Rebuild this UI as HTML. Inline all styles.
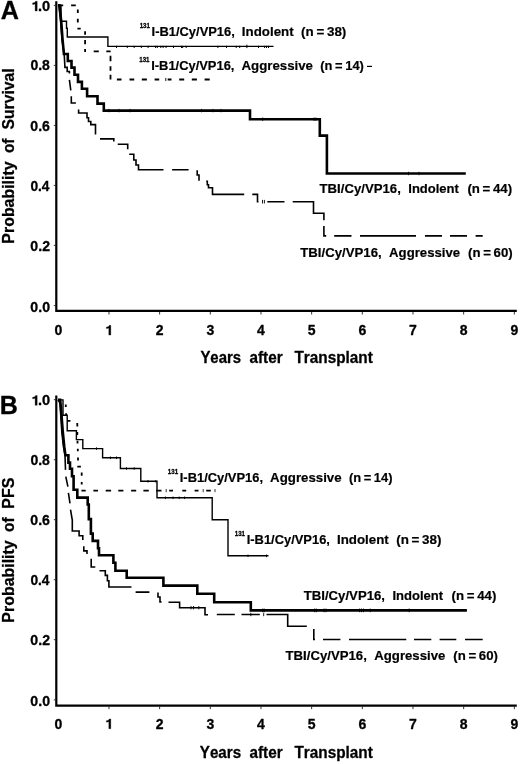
<!DOCTYPE html>
<html><head><meta charset="utf-8"><style>
html,body{margin:0;padding:0;background:#fff;}
svg{display:block;filter:blur(0.35px);}
text{font-family:"Liberation Sans", sans-serif;font-weight:bold;fill:#000;stroke:#000;stroke-width:0.3px;stroke-linejoin:round;font-kerning:none;font-variant-ligatures:none;}
path{fill:none;stroke:#000;stroke-linecap:butt;stroke-linejoin:miter;}
</style></head><body>
<svg width="520" height="764" viewBox="0 0 520 764">
<text x="0.72" y="19.4" font-size="26.5" textLength="18.19" lengthAdjust="spacingAndGlyphs" >A</text>
<path d="M56.3,1.2 V310.90 H516.8" stroke-width="2.2" stroke-linejoin="round"/>
<path d="M108.97,311.90 v2.6 M159.64,311.90 v2.6 M210.31,311.90 v2.6 M260.98,311.90 v2.6 M311.65,311.90 v2.6 M362.32,311.90 v2.6 M412.99,311.90 v2.6 M463.66,311.90 v2.6 M514.33,311.90 v2.6" stroke-width="0.8" stroke="#888"/>
<path d="M53.8,5.4 H55.2 M53.8,65.4 H55.2 M53.8,125.4 H55.2 M53.8,185.4 H55.2 M53.8,245.4 H55.2 M53.8,305.6 H55.2" stroke-width="0.8" stroke="#aaa"/>
<path d="M35.12,11.00 37.20,11.00 37.20,1.25 35.56,1.25 35.32,1.83 34.88,2.32 34.18,2.68 33.36,2.87 32.60,2.93 32.60,4.44 33.51,4.38 34.33,4.20 35.12,3.83Z" style="fill:#000;stroke:#000;stroke-width:0.3px;stroke-linejoin:round"/>
<text x="38.06" y="11.0" font-size="14" textLength="12.19" lengthAdjust="spacingAndGlyphs" >.0</text>
<text x="30.40" y="70.4" font-size="14" textLength="19.49" lengthAdjust="spacingAndGlyphs" >0.8</text>
<text x="30.39" y="130.8" font-size="14" textLength="19.57" lengthAdjust="spacingAndGlyphs" >0.6</text>
<text x="30.41" y="190.7" font-size="14" textLength="19.12" lengthAdjust="spacingAndGlyphs" >0.4</text>
<text x="30.39" y="250.7" font-size="14" textLength="19.62" lengthAdjust="spacingAndGlyphs" >0.2</text>
<text x="30.39" y="311.5" font-size="14" textLength="19.64" lengthAdjust="spacingAndGlyphs" >0.0</text>
<text x="58.3" y="335.1" font-size="14" text-anchor="middle" >0</text>
<path d="M108.81,335.10 110.80,335.10 110.80,325.35 109.23,325.35 109.01,325.93 108.58,326.42 107.91,326.78 107.13,326.97 106.40,327.03 106.40,328.54 107.27,328.48 108.05,328.30 108.81,327.93Z" style="fill:#000;stroke:#000;stroke-width:0.3px;stroke-linejoin:round"/>
<text x="159.64" y="335.1" font-size="14" text-anchor="middle" >2</text>
<text x="210.31" y="335.1" font-size="14" text-anchor="middle" >3</text>
<text x="260.98" y="335.1" font-size="14" text-anchor="middle" >4</text>
<text x="311.65" y="335.1" font-size="14" text-anchor="middle" >5</text>
<text x="362.32" y="335.1" font-size="14" text-anchor="middle" >6</text>
<text x="412.99" y="335.1" font-size="14" text-anchor="middle" >7</text>
<text x="463.66" y="335.1" font-size="14" text-anchor="middle" >8</text>
<text x="514.33" y="335.1" font-size="14" text-anchor="middle" >9</text>
<text x="200.39" y="363.4" font-size="16.8" textLength="40.67" lengthAdjust="spacingAndGlyphs" >Years</text>
<text x="249.50" y="363.4" font-size="16.8" textLength="33.08" lengthAdjust="spacingAndGlyphs" >after</text>
<text x="294.48" y="363.4" font-size="16.8" textLength="78.36" lengthAdjust="spacingAndGlyphs" >Transplant</text>
<text x="-0.33" y="413.6" font-size="26.5" textLength="18.12" lengthAdjust="spacingAndGlyphs" >B</text>
<path d="M56.3,395.5 V705.60 H516.8" stroke-width="2.2" stroke-linejoin="round"/>
<path d="M108.97,706.60 v2.6 M159.64,706.60 v2.6 M210.31,706.60 v2.6 M260.98,706.60 v2.6 M311.65,706.60 v2.6 M362.32,706.60 v2.6 M412.99,706.60 v2.6 M463.66,706.60 v2.6 M514.33,706.60 v2.6" stroke-width="0.8" stroke="#888"/>
<path d="M53.8,399.7 H55.2 M53.8,459.7 H55.2 M53.8,519.7 H55.2 M53.8,579.7 H55.2 M53.8,639.7 H55.2 M53.8,699.9 H55.2" stroke-width="0.8" stroke="#aaa"/>
<path d="M35.12,405.30 37.20,405.30 37.20,395.55 35.56,395.55 35.32,396.13 34.88,396.62 34.18,396.98 33.36,397.17 32.60,397.23 32.60,398.74 33.51,398.68 34.33,398.50 35.12,398.13Z" style="fill:#000;stroke:#000;stroke-width:0.3px;stroke-linejoin:round"/>
<text x="38.06" y="405.3" font-size="14" textLength="12.19" lengthAdjust="spacingAndGlyphs" >.0</text>
<text x="30.40" y="464.7" font-size="14" textLength="19.49" lengthAdjust="spacingAndGlyphs" >0.8</text>
<text x="30.39" y="525.1" font-size="14" textLength="19.57" lengthAdjust="spacingAndGlyphs" >0.6</text>
<text x="30.41" y="585.0" font-size="14" textLength="19.12" lengthAdjust="spacingAndGlyphs" >0.4</text>
<text x="30.39" y="645.0" font-size="14" textLength="19.62" lengthAdjust="spacingAndGlyphs" >0.2</text>
<text x="30.39" y="705.8" font-size="14" textLength="19.64" lengthAdjust="spacingAndGlyphs" >0.0</text>
<text x="58.3" y="728.7" font-size="14" text-anchor="middle" >0</text>
<path d="M108.81,728.70 110.80,728.70 110.80,718.95 109.23,718.95 109.01,719.53 108.58,720.02 107.91,720.38 107.13,720.57 106.40,720.63 106.40,722.14 107.27,722.08 108.05,721.90 108.81,721.53Z" style="fill:#000;stroke:#000;stroke-width:0.3px;stroke-linejoin:round"/>
<text x="159.64" y="728.7" font-size="14" text-anchor="middle" >2</text>
<text x="210.31" y="728.7" font-size="14" text-anchor="middle" >3</text>
<text x="260.98" y="728.7" font-size="14" text-anchor="middle" >4</text>
<text x="311.65" y="728.7" font-size="14" text-anchor="middle" >5</text>
<text x="362.32" y="728.7" font-size="14" text-anchor="middle" >6</text>
<text x="412.99" y="728.7" font-size="14" text-anchor="middle" >7</text>
<text x="463.66" y="728.7" font-size="14" text-anchor="middle" >8</text>
<text x="514.33" y="728.7" font-size="14" text-anchor="middle" >9</text>
<text x="199.79" y="758.2" font-size="16.8" textLength="41.28" lengthAdjust="spacingAndGlyphs" >Years</text>
<text x="249.50" y="758.2" font-size="16.8" textLength="33.08" lengthAdjust="spacingAndGlyphs" >after</text>
<text x="294.48" y="758.2" font-size="16.8" textLength="78.36" lengthAdjust="spacingAndGlyphs" >Transplant</text>
<text x="-1.06" y="0" font-size="16.8" textLength="82.25" lengthAdjust="spacingAndGlyphs" transform="translate(14.0,242.6) rotate(-90)">Probability</text>
<text x="-0.60" y="0" font-size="16.8" textLength="14.57" lengthAdjust="spacingAndGlyphs" transform="translate(14.0,152.5) rotate(-90)">of</text>
<text x="-0.45" y="0" font-size="16.8" textLength="61.06" lengthAdjust="spacingAndGlyphs" transform="translate(14.0,129.0) rotate(-90)">Survival</text>
<text x="-1.07" y="0" font-size="16.8" textLength="82.35" lengthAdjust="spacingAndGlyphs" transform="translate(14.0,621.6) rotate(-90)">Probability</text>
<text x="-0.60" y="0" font-size="16.8" textLength="14.57" lengthAdjust="spacingAndGlyphs" transform="translate(14.0,531.4) rotate(-90)">of</text>
<text x="-1.07" y="0" font-size="16.8" textLength="30.99" lengthAdjust="spacingAndGlyphs" transform="translate(14.0,507.6) rotate(-90)">PFS</text>
<text x="139.66" y="27.9" font-size="7.0" textLength="10.26" lengthAdjust="spacingAndGlyphs" style="stroke-width:0.3px">131</text>
<text x="151.59" y="35.5" font-size="13.6" textLength="83.23" lengthAdjust="spacingAndGlyphs" style="stroke-width:0.2px">I-B1/Cy/VP16,</text>
<text x="241.86" y="35.5" font-size="13.6" textLength="51.75" lengthAdjust="spacingAndGlyphs" style="stroke-width:0.2px">Indolent</text>
<text x="301.08" y="35.5" font-size="13.6" textLength="45.24" lengthAdjust="spacingAndGlyphs" style="stroke-width:0.2px">(n = 38)</text>
<text x="139.26" y="62.0" font-size="7.0" textLength="10.26" lengthAdjust="spacingAndGlyphs" style="stroke-width:0.3px">131</text>
<text x="151.19" y="69.6" font-size="13.6" textLength="83.23" lengthAdjust="spacingAndGlyphs" style="stroke-width:0.2px">I-B1/Cy/VP16,</text>
<text x="241.52" y="69.6" font-size="13.6" textLength="71.48" lengthAdjust="spacingAndGlyphs" style="stroke-width:0.2px">Aggressive</text>
<text x="320.31" y="69.6" font-size="13.6" textLength="43.59" lengthAdjust="spacingAndGlyphs" style="stroke-width:0.2px">(n = 14)</text>
<text x="319.50" y="192.7" font-size="13.6" textLength="81.33" lengthAdjust="spacingAndGlyphs" style="stroke-width:0.2px">TBI/Cy/VP16,</text>
<text x="408.28" y="192.7" font-size="13.6" textLength="50.63" lengthAdjust="spacingAndGlyphs" style="stroke-width:0.2px">Indolent</text>
<text x="467.39" y="192.7" font-size="13.6" textLength="44.72" lengthAdjust="spacingAndGlyphs" style="stroke-width:0.2px">(n = 44)</text>
<text x="300.30" y="257.3" font-size="13.6" textLength="81.33" lengthAdjust="spacingAndGlyphs" style="stroke-width:0.2px">TBI/Cy/VP16,</text>
<text x="389.12" y="257.3" font-size="13.6" textLength="70.98" lengthAdjust="spacingAndGlyphs" style="stroke-width:0.2px">Aggressive</text>
<text x="468.09" y="257.3" font-size="13.6" textLength="44.62" lengthAdjust="spacingAndGlyphs" style="stroke-width:0.2px">(n = 60)</text>
<text x="167.86" y="473.9" font-size="7.0" textLength="10.26" lengthAdjust="spacingAndGlyphs" style="stroke-width:0.3px">131</text>
<text x="179.79" y="481.5" font-size="13.6" textLength="83.23" lengthAdjust="spacingAndGlyphs" style="stroke-width:0.2px">I-B1/Cy/VP16,</text>
<text x="270.12" y="481.5" font-size="13.6" textLength="71.48" lengthAdjust="spacingAndGlyphs" style="stroke-width:0.2px">Aggressive</text>
<text x="348.91" y="481.5" font-size="13.6" textLength="43.59" lengthAdjust="spacingAndGlyphs" style="stroke-width:0.2px">(n = 14)</text>
<text x="234.76" y="536.2" font-size="7.0" textLength="10.26" lengthAdjust="spacingAndGlyphs" style="stroke-width:0.3px">131</text>
<text x="246.69" y="543.8" font-size="13.6" textLength="83.23" lengthAdjust="spacingAndGlyphs" style="stroke-width:0.2px">I-B1/Cy/VP16,</text>
<text x="336.96" y="543.8" font-size="13.6" textLength="51.75" lengthAdjust="spacingAndGlyphs" style="stroke-width:0.2px">Indolent</text>
<text x="396.18" y="543.8" font-size="13.6" textLength="45.24" lengthAdjust="spacingAndGlyphs" style="stroke-width:0.2px">(n = 38)</text>
<text x="303.70" y="600.1" font-size="13.6" textLength="81.33" lengthAdjust="spacingAndGlyphs" style="stroke-width:0.2px">TBI/Cy/VP16,</text>
<text x="392.48" y="600.1" font-size="13.6" textLength="50.63" lengthAdjust="spacingAndGlyphs" style="stroke-width:0.2px">Indolent</text>
<text x="451.59" y="600.1" font-size="13.6" textLength="44.72" lengthAdjust="spacingAndGlyphs" style="stroke-width:0.2px">(n = 44)</text>
<text x="285.50" y="659.8" font-size="13.6" textLength="81.33" lengthAdjust="spacingAndGlyphs" style="stroke-width:0.2px">TBI/Cy/VP16,</text>
<text x="374.32" y="659.8" font-size="13.6" textLength="70.98" lengthAdjust="spacingAndGlyphs" style="stroke-width:0.2px">Aggressive</text>
<text x="453.29" y="659.8" font-size="13.6" textLength="44.62" lengthAdjust="spacingAndGlyphs" style="stroke-width:0.2px">(n = 60)</text>
<path d="M58,5.4 H59.5 L61.2,21 L62.6,40 L63.9,54 H67.8 V61 H71.5 V67.6 H74.5 V74.8 H78 V81.9 H81.9 V88.8 H87.1 V96.3 H97.5 V103.6 H103.8 V110.6 H250 V119.2 H319.8 V135.6 H326.9 V173.5 H465.8" stroke-width="2.6" />
<path d="M109,108.90v3.4 M119,108.90v3.4 M130,108.90v3.4 M201.5,108.90v3.4 M213,108.90v3.4 M221,108.90v3.4 M262.7,117.50v3.4 M314,117.50v3.4 M316,117.50v3.4 M408.5,171.80v3.4 M419,171.80v3.4" stroke-width="0.9" />
<path d="M58,5.4 L59,6 L60.6,21 L62,40 L64.2,54 L64.9,66.5 V67.4 H67.2 V71.5 H69.4 V73.4 M69.4,79.8 L70.8,90.3 M71.3,96.2 V103 H75.9 M78.6,109.5 V113 H87 V117.7 H88.5 V121.5 H90.8 V124.6 H95.5 V134.6 M100,138.9 H113.8 V141.5 M117.7,144.2 H127.7 V149.2 M129.2,154.3 H133.8 V160 H136 V165 H138.5 V169.7 H163.5 M172.1,169.7 H188.6 M197.2,170.2 V175 H199 V180.8 M206.2,181.3 H207.3 V184.8 H208.5 V187.7 H212.5 V194.4 H244.2 M252.3,194.4 H257.5 V201.7 H258.5 M267.3,201.7 H284.5 M292.7,201.7 H313.5 V213.3 H323.9 V220.2 M323.9,226 V235.9 H326.2 M334.2,235.9 H351.5 M360,235.9 H416 M425,235.9 H442 M450,235.9 H467 M475.6,235.9 H482.7" stroke-width="1.6" />
<path d="M262.5,199.90v3.6 M264.4,199.90v3.6" stroke-width="0.9" />
<path d="M58,5.4 H61 V21.2 H66.5 V28.3 H67.3 V37 H107.9 V46.4 H273.5" stroke-width="1.4" />
<path d="M116.5,45.80v2.2 M127.3,45.80v2.2 M134.2,45.80v2.2 M141.3,45.80v2.2 M148.1,45.80v2.2 M155.6,45.80v2.2 M157.3,45.80v2.2 M160.8,45.80v2.2 M163.1,45.80v2.2 M166,45.80v2.2 M173.5,45.80v2.2 M181.5,45.80v2.2 M182.7,45.80v2.2 M186.2,45.80v2.2 M217.9,45.80v2.2 M226.5,45.80v2.2 M236.2,45.80v2.2 M239.7,45.80v2.2 M258.5,45.80v2.2 M264.6,45.80v2.2 M266.5,45.80v2.2 M268.5,45.80v2.2" stroke-width="1.0" />
<path d="M246.9,44.70v3.4" stroke-width="1.0" />
<path d="M58,5.4 H63.2 M71.1,5.4 H75.8 M77.8,9.4 V13 M77.8,18.8 V22.4 M77.4,28.6 H80.7 M85.1,31.3 V34.8 M85.1,40 V44.2 M85.1,49 V52.1 M93.7,51.3 H98.8 M106.3,51.3 H110.6 M110.5,55.8 V61.3 M110.5,66.2 V70.8 M110.5,74.8 V79.4 M116.9,79.5 H121.5 M129.5,79.5 H134.2 M141.8,79.5 H146.9 M154.6,79.5 H159.2 M167.7,79.5 H171.5 M179.2,79.5 H184.2 M191.8,79.5 H196.9 M204.6,79.5 H209.7" stroke-width="1.8" />
<path d="M165.8,77.90v3.2" stroke-width="0.9" />
<path d="M367,66.4 H372" stroke-width="1.2" stroke="#ddd"/>
<path d="M58,399.9 H60.2 L61.5,415 L62.8,432 L64.3,447 L65.4,455.2 H68.4 V462.6 H70 V468.8 H72 V476.2 H73.6 V489.8 H77.3 V497.6 H87.7 V504.5 H88.8 V519.1 H90.9 V533.6 H92.7 V540.9 H98 V548.2 H99 V555.2 H113.4 V562.8 H115.4 V570.8 H126.7 V577.7 H163.4 V585.6 H197.3 V593.8 H214.2 V602.3 H250.8 V610.4 H466.9" stroke-width="2.6" />
<path d="M250.8,604.20v3.6 M262.7,608.60v3.6 M264.2,608.60v3.6 M314.6,608.60v3.6 M316.3,608.60v3.6 M324,608.60v3.6 M326,608.60v3.6 M359.6,608.60v3.6 M361.5,608.60v3.6 M363.5,608.60v3.6 M370.2,608.60v3.6 M409.2,608.60v3.6" stroke-width="1.0" />
<path d="M58,399.9 L60,403 L61.8,432 L63.5,447 L65,455 L65.5,469.9 M65.8,476.7 L67.9,486.6 M68.4,492.9 L70,503.4 M70.5,509.7 L72.3,520 V531 H79.1 V535.7 H82.8 V539.9 M83.8,546.2 V550.9 H87 V554 M91.2,558.7 V567 H95.3 M99.5,570.7 H105.3 V575.4 H107.4 V580.7 H108.9 V587 H131.5 M135.6,592.1 H149.4 M158,592.5 V597 H160 V601.9 H161.5 M168.5,602.3 H179.6 V607.7 H205 V614.7 H208 M216.8,614.5 H234.8 M241.5,614.5 H259.8 M266.5,614.5 H287.7 V626.3 H306.8 M313.8,629 V639.5 H315 M323,639.5 H340.4 M349,639.5 H406.3 M414,639.5 H431.3 M439.6,639.5 H456.3 M465,639.5 H482.7" stroke-width="1.6" />
<path d="M191,606.00v3.4 M193.5,606.00v3.4 M198.8,606.00v3.4 M250.8,612.80v3.4 M263.7,612.80v3.4" stroke-width="0.9" />
<path d="M58,399.9 H63 V415.2 H67.2 V430.8 H76.4 V439.6 H82.8 V448.6 H102.6 V457.8 H120.4 V468.5 H140.8 V481.3 H157 V497.8 H212.2 V519.8 H228 V555.8 H268.5" stroke-width="1.4" />
<path d="M96.5,447.30v2.6 M110.4,456.50v2.6 M116.5,456.50v2.6 M126.5,467.20v2.6 M134.2,467.20v2.6 M148,480.00v2.6 M155.8,480.00v2.6 M165.4,496.50v2.6 M173,496.50v2.6 M179.2,496.50v2.6 M184.6,496.50v2.6 M248,554.50v2.6 M266.5,554.50v2.6" stroke-width="0.9" />
<path d="M65.8,404.5 V407 M66.1,413.3 V415.6 M67.2,420.9 H70.4 M77.3,423 V426.4 M77.3,432 V435 M77.5,440.8 V443.5 M77.8,448.7 V451.3 M78,457.6 V460.4 M77.3,466.7 H80.9 M81.7,472.5 V475.7 M81.7,481.9 V484.6 M81.4,490.6 H85.7 M93.4,490.6 H98 M105.7,490.6 H111.1 M118.3,490.6 H123.4 M131.1,490.6 H136.2 M143.4,490.6 H148.8 M156.2,490.6 H161.5 M169.2,490.6 H173 M182.3,490.6 H186.2 M194.6,490.6 H198.5 M206.2,490.6 H210.8" stroke-width="1.8" />
<path d="M166.2,489.0 v3.2 M203.2,489.0 v3.2 M215.0,489.0 v3.2" stroke-width="0.8" stroke="#aaa"/>
</svg>
</body></html>
